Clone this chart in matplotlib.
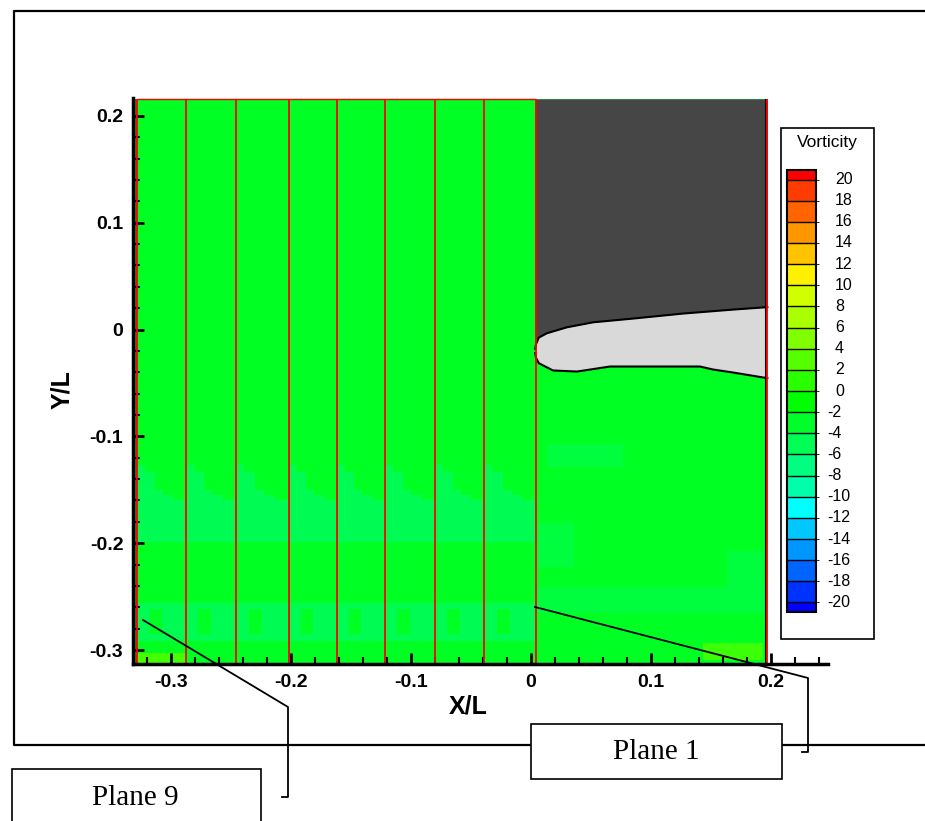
import numpy as np
import matplotlib.pyplot as plt
from matplotlib.patches import Rectangle
from matplotlib.colors import ListedColormap, BoundaryNorm
from matplotlib.cm import ScalarMappable
from matplotlib.ticker import MultipleLocator, FuncFormatter
from matplotlib.transforms import blended_transform_factory

plt.rcParams['axes.unicode_minus'] = False
plt.rcParams['font.family'] = ['Liberation Sans', 'DejaVu Sans']

W, H = 925, 821

# plane positions (Plane 1 .. Plane 9), X/L
planes_x = [0.004, -0.039, -0.080, -0.122, -0.162, -0.202, -0.246, -0.2875, -0.328]
field_right = 0.197
field_top = 0.216

# body outline (upper and lower edges of the light grey region)
upper_x = [0.0035, 0.0042, 0.0065, 0.0131, 0.0298, 0.0517, 0.085, 0.1267, 0.1683, 0.197]
upper_y = [-0.018, -0.0135, -0.0075, -0.0035, 0.0021, 0.0068, 0.0103, 0.0150, 0.0187, 0.0210]
lower_x = [0.0035, 0.0042, 0.0065, 0.0183, 0.0383, 0.0658, 0.1408, 0.1517, 0.1683, 0.197]
lower_y = [-0.022, -0.0265, -0.0315, -0.0383, -0.0393, -0.0346, -0.0346, -0.0374, -0.0402, -0.0455]

# lighter vorticity band between planes (top edge steps down across each segment)
seg_frac = [0, 0.16, 0.36, 0.53, 0.74, 1.0]
band_top = [-0.127, -0.133, -0.150, -0.155, -0.160, -0.160]
band_bottom = -0.199
band2_top, band2_bottom = -0.256, -0.292

# lighter patches downstream of plane 1: x0, x1, y0, y1
patch_x0 = [0.013, 0.0058, 0.004, 0.163]
patch_x1 = [0.077, 0.036, 0.197, 0.193]
patch_y0 = [-0.129, -0.222, -0.265, -0.241]
patch_y1 = [-0.107, -0.181, -0.241, -0.207]

# legend levels and colours
levels = list(range(-20, 21, 2))
band_colors = ['#0032ff', '#0064ff', '#0096ff', '#00c8ff', '#00ffff', '#00ffaa',
               '#00ff80', '#00ff55', '#00ff2a', '#00ff00', '#2aff00', '#55ff00',
               '#80ff00', '#aaff00', '#d2ff00', '#fff000', '#ffc300', '#ff9600',
               '#ff6400', '#ff3c00']
under_color, over_color = '#0000ff', '#ff0000'

green = '#00ff22'
green_light = '#00fc52'
green_faint = '#00fd3e'

fig = plt.figure(figsize=(W / 100, H / 100), dpi=100)
ax = fig.add_axes([133 / W, 1 - 664 / H, 695 / W, 566 / H])
ax.set_xlim(-0.3317, 0.2475)
ax.set_ylim(-0.3131, 0.2168)

# field
ax.fill_between([-0.3317, planes_x[-1]], -0.3131, field_top, color='#3c8c14', lw=0)
ax.fill_between([planes_x[-1], field_right], -0.3131, field_top, color=green, lw=0)
for i in range(len(planes_x) - 1):
    x0, x1 = planes_x[i + 1], planes_x[i]
    xs = [x0 + f * (x1 - x0) for f in seg_frac]
    ax.fill_between(xs, band_top, band_bottom, step='post', color=green_light, lw=0)
    ax.fill_between([x0, x1], band2_top, band2_bottom, color=green_light, lw=0)
    ax.fill_between([x0 + 0.25 * (x1 - x0), x0 + 0.5 * (x1 - x0)], -0.262, -0.285,
                    color=green, lw=0)
ax.fill_between([planes_x[-1], planes_x[-2]], -0.3131, -0.303, color='#44ff00', lw=0)
for x0, x1, y0, y1 in zip(patch_x0, patch_x1, patch_y0, patch_y1):
    ax.fill_between([x0, x1], y0, y1, color=green_faint, lw=0)
ax.fill_between([0.143, 0.193], -0.309, -0.293, color='#3cff08', lw=0)

# dark region above body and light grey body
ax.fill_between(upper_x, upper_y, field_top, color='#464646', lw=0)
bx = np.union1d(upper_x, lower_x)
ax.fill_between(bx, np.interp(bx, lower_x, lower_y), np.interp(bx, upper_x, upper_y),
                color='#d9d9d9', lw=0)
ax.plot(upper_x, upper_y, color='black', lw=1.5)
ax.plot(lower_x, lower_y, color='black', lw=1.5)

# planes
ax.vlines(planes_x, -0.3131, field_top, color='red', lw=1.3)
ax.hlines(field_top, planes_x[-1], planes_x[0], color='red', lw=1)
ax.vlines(field_right - 0.0015, -0.3131, field_top, color='black', lw=1.5)
ax.vlines(field_right, -0.3131, field_top, color='red', lw=1.3)

# axes styling
for s in ['top', 'right']:
    ax.spines[s].set_visible(False)
for s in ['left', 'bottom']:
    ax.spines[s].set_linewidth(2.5)
ax.xaxis.set_major_locator(MultipleLocator(0.1))
ax.xaxis.set_minor_locator(MultipleLocator(0.02))
ax.yaxis.set_major_locator(MultipleLocator(0.1))
ax.yaxis.set_minor_locator(MultipleLocator(0.02))
fmt = FuncFormatter(lambda v, _: '%g' % (round(v, 2) + 0.0))
ax.xaxis.set_major_formatter(fmt)
ax.yaxis.set_major_formatter(fmt)
ax.tick_params(which='major', direction='in', length=8, width=2, labelsize=14, pad=7)
ax.tick_params(which='minor', direction='in', length=5, width=1.5)
for lab in ax.get_xticklabels() + ax.get_yticklabels():
    lab.set_fontweight('bold')
ax.set_xlabel('X/L', fontsize=18, fontweight='bold')
ax.set_ylabel('Y/L', fontsize=18, fontweight='bold')
ax.xaxis.set_label_coords((468 - 133) / 695, -(706 - 664) / 566)
ax.yaxis.set_label_coords((62 - 133) / 695, (664 - 390) / 566)
ax.xaxis.label.set_va('center')
ax.yaxis.label.set_va('center')

# legend box
fig.add_artist(Rectangle((781 / W, 1 - 639 / H), 93 / W, 511 / H, transform=fig.transFigure,
                         facecolor='white', edgecolor='black', lw=1.2, zorder=0.5))
fig.text(827 / W, 1 - 143 / H, 'Vorticity', ha='center', va='center', fontsize=12.5, zorder=1)
cax = fig.add_axes([787 / W, 1 - 612 / H, 29 / W, 442 / H])
cax.set_zorder(1)
cmap = ListedColormap(band_colors)
cmap.set_under(under_color)
cmap.set_over(over_color)
norm = BoundaryNorm(levels, cmap.N)
cb = fig.colorbar(ScalarMappable(norm=norm, cmap=cmap), cax=cax, extend='both',
                  extendrect=True, extendfrac=[10 / 442, 10 / 442], drawedges=True, ticks=[])
cb.outline.set_linewidth(1.5)
cb.dividers.set_linewidth(1)
cax.tick_params(length=0)
tr = blended_transform_factory(cax.transAxes, cax.transData)
for lev in levels:
    xpos = (835 - 787) / 29 if lev >= 0 else (827 - 787) / 29
    cax.text(xpos, lev, str(lev), transform=tr, ha='left', va='center', fontsize=11.5)

# overlay: frame, call-out boxes and leader lines (pixel coords)
ov = fig.add_axes([0, 0, 1, 1])
ov.set_xlim(0, W)
ov.set_ylim(H, 0)
ov.axis('off')
ov.patch.set_visible(False)
ov.set_zorder(3)
ov.plot([925, 14, 14, 925], [11, 11, 745, 745], color='black', lw=1.6, zorder=1)
ov.add_patch(Rectangle((531, 724), 251, 55, facecolor='white', edgecolor='black', lw=1.2, zorder=2))
ov.add_patch(Rectangle((12, 769), 249, 70, facecolor='white', edgecolor='black', lw=1.2, zorder=2))
ov.text(656, 752, 'Plane 1', ha='center', va='center', fontsize=21, family='Liberation Serif', zorder=3)
ov.text(135, 798, 'Plane 9', ha='center', va='center', fontsize=21, family='Liberation Serif', zorder=3)
ov.plot([535, 808, 808, 802], [607, 678, 752, 752], color='black', lw=1.3, zorder=3)
ov.plot([143, 288, 288, 282], [620, 707, 797, 797], color='black', lw=1.3, zorder=3)

fig.savefig('out.png', dpi=100)
